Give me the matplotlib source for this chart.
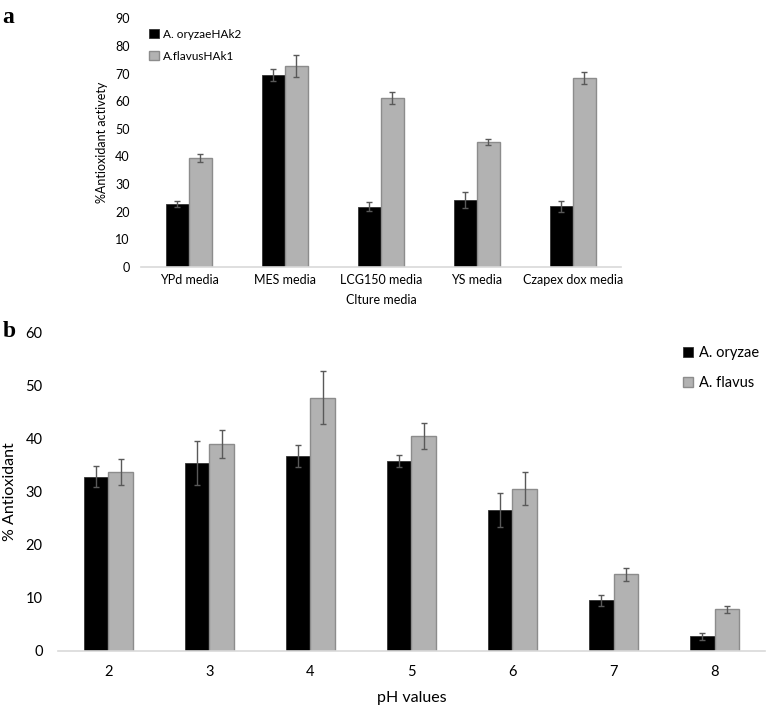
import numpy as np
import matplotlib.pyplot as plt

plt.rcParams['font.family'] = ['Lato', 'DejaVu Sans']

# panel a: culture media
media = ['YPd media', 'MES media', 'LCG150 media', 'YS media', 'Czapex dox media']
oryzae_a = [22.8, 69.6, 21.7, 24.2, 21.9]
oryzae_a_err = [1.0, 2.2, 1.6, 3.0, 2.0]
flavus_a = [39.3, 72.8, 61.2, 45.2, 68.4]
flavus_a_err = [1.4, 3.9, 2.2, 1.2, 2.3]

# panel b: pH
ph = ['2', '3', '4', '5', '6', '7', '8']
oryzae_b = [32.8, 35.4, 36.8, 35.8, 26.5, 9.5, 2.7]
oryzae_b_err = [2.0, 4.1, 2.1, 1.2, 3.2, 1.1, 0.6]
flavus_b = [33.7, 39.0, 47.7, 40.5, 30.6, 14.4, 7.8]
flavus_b_err = [2.4, 2.6, 5.0, 2.4, 3.1, 1.3, 0.6]

black = '#000000'
grey = '#b2b2b2'
grey_edge = '#8c8c8c'
err_col = '#595959'

fig = plt.figure(figsize=(7.67, 7.06), dpi=100)


def style(ax):
    for s in ['top', 'right', 'left']:
        ax.spines[s].set_visible(False)
    ax.spines['bottom'].set_color('#d9d9d9')
    ax.spines['bottom'].set_linewidth(1.2)
    ax.tick_params(length=0)


# ---- panel a ----
ax1 = fig.add_axes([0.1838, 0.6222, 0.6258, 0.3518])
x = np.arange(len(media))
w = 0.24
ax1.bar(x - w / 2, oryzae_a, w, color=black, edgecolor='#333333', linewidth=0.6,
        yerr=oryzae_a_err, capsize=2.2, error_kw=dict(ecolor=err_col, elinewidth=1),
        label='A. oryzaeHAk2')
ax1.bar(x + w / 2, flavus_a, w, color=grey, edgecolor=grey_edge, linewidth=1,
        yerr=flavus_a_err, capsize=2.2, error_kw=dict(ecolor=err_col, elinewidth=1),
        label='A.flavusHAk1')
ax1.set_xlim(-0.5, len(media) - 0.5)
ax1.set_ylim(0, 90)
ax1.set_yticks(range(0, 91, 10))
ax1.set_xticks(x)
ax1.set_xticklabels(media, fontsize=9)
ax1.tick_params(axis='y', labelsize=9, pad=8)
ax1.tick_params(axis='x', pad=5)
style(ax1)
ax1.set_ylabel('%Antioxidant activety', fontsize=9)
ax1.yaxis.set_label_coords(-0.068, 0.5)
ax1.set_xlabel('Clture media', fontsize=9)
ax1.xaxis.set_label_coords(0.5, -0.11)
ax1.legend(loc='upper left', bbox_to_anchor=(-0.005, 1.0), frameon=False, fontsize=8.5,
           handlelength=0.8, handleheight=0.8, handletextpad=0.4, labelspacing=0.9)

# ---- panel b ----
ax2 = fig.add_axes([0.0756, 0.0783, 0.9218, 0.4504])
x = np.arange(len(ph))
ax2.bar(x - w / 2, oryzae_b, w, color=black, edgecolor='#333333', linewidth=0.6,
        yerr=oryzae_b_err, capsize=2.5, error_kw=dict(ecolor=err_col, elinewidth=1),
        label='A. oryzae')
ax2.bar(x + w / 2, flavus_b, w, color=grey, edgecolor=grey_edge, linewidth=1,
        yerr=flavus_b_err, capsize=2.5, error_kw=dict(ecolor=err_col, elinewidth=1),
        label='A. flavus')
ax2.set_xlim(-0.5, len(ph) - 0.5)
ax2.set_ylim(0, 60)
ax2.set_yticks(range(0, 61, 10))
ax2.set_xticks(x)
ax2.set_xticklabels(ph, fontsize=10.5)
ax2.tick_params(axis='y', labelsize=10.5, pad=11)
ax2.tick_params(axis='x', pad=10)
style(ax2)
ax2.set_ylabel('% Antioxidant', fontsize=11.5)
ax2.yaxis.set_label_coords(-0.058, 0.5)
ax2.set_xlabel('pH values', fontsize=11.5)
ax2.xaxis.set_label_coords(0.5, -0.128)
ax2.legend(loc='upper left', bbox_to_anchor=(0.865, 1.0), frameon=False, fontsize=10.5,
           handlelength=0.7, handleheight=0.7, handletextpad=0.4, labelspacing=1.1)

fig.text(0.003, 0.975, 'a', fontsize=17, fontweight='bold', family='Liberation Serif', va='center')
fig.text(0.003, 0.530, 'b', fontsize=17, fontweight='bold', family='Liberation Serif', va='center')

fig.savefig('out.png', dpi=100)
